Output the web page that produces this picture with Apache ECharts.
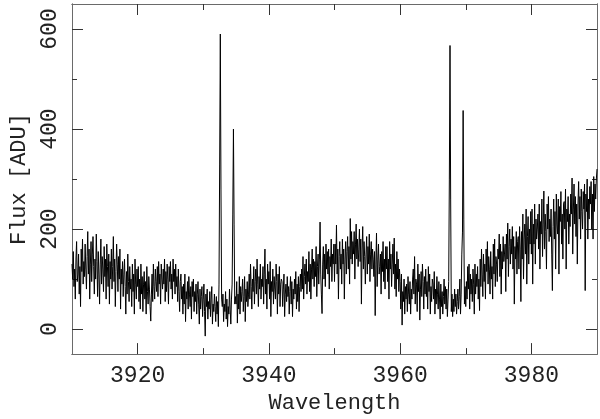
<!DOCTYPE html>
<html>
<head>
<meta charset="utf-8">
<script src="https://cdn.jsdelivr.net/npm/echarts@6/dist/echarts.min.js"></script>
<style>html,body{margin:0;padding:0;background:#fff;}#c{width:600px;height:419px;}</style>
</head>
<body>
<div id="c"></div>
<script>
const WL_START = 3910;
const WL_STEP = 0.1;
// Flux, 0.1 A sampling, one row per Angstrom
const fluxA = [
  130,100,155,85,120,60,140,175,95,110,
  150,70,125,45,160,115,180,90,135,105,
  170,120,80,145,195,110,160,60,130,175,
  95,150,185,125,70,140,100,190,135,65,
  155,110,50,130,180,90,145,120,75,165,
  105,140,60,170,125,85,150,50,135,100,
  160,80,125,185,95,140,45,115,170,130,
  75,145,100,160,40,120,90,135,65,110,
  140,85,30,115,70,150,95,55,125,80,
  100,45,130,75,110,30,140,90,60,120,
  85,125,55,100,40,130,70,105,35,90,
  115,60,95,30,125,75,50,105,80,45,
  16,70,110,55,130,85,60,120,95,75,
  125,65,135,90,110,50,130,100,80,120,
  90,140,55,115,75,130,100,50,125,95,
  135,80,110,60,140,95,120,70,130,85,
  105,55,120,75,35,95,110,60,85,30,
  90,50,110,15,75,60,95,40,105,70,
  45,85,20,95,65,100,35,75,55,90,
  30,70,95,50,10,80,40,65,85,25];
const fluxB = [
  60,90,35,-14,70,45,80,20,55,40,
  75,25,60,85,10,50,35,70,45,15,
  65,30,55,5,90,330,590,280,60,45,
  70,15,50,35,75,20,60,5,45,30,
  80,40,10,60,90,230,400,210,50,65,
  50,95,12,70,40,105,30,85,55,75,
  100,35,65,105,15,80,55,95,45,70,
  110,60,130,85,40,100,75,125,50,95,
  120,70,140,90,45,105,80,130,60,100,
  85,125,50,110,160,70,100,40,130,90,
  115,60,135,25,95,75,120,50,105,80,
  60,130,95,30,110,70,125,45,90,100,
  95,45,80,110,25,70,90,55,105,65,
  85,30,75,105,50,95,25,80,60,100,
  70,115,40,90,55,105,35,85,110,75,
  120,80,145,60,105,130,90,140,70,115,
  95,155,75,130,60,120,160,100,140,85,
  135,105,165,65,125,150,90,140,214,110,
  70,31,130,165,100,150,85,170,120,155,
  110,160,80,145,125,180,95,150,130,170];
const fluxC = [
  95,170,130,208,110,160,60,145,175,120,
  150,90,180,130,160,60,140,175,110,155,
  185,120,165,90,221,140,195,130,175,150,
  195,100,170,210,140,180,125,160,200,135,
  180,50,160,205,120,175,145,90,150,185,
  110,165,130,190,95,150,175,120,160,140,
  105,155,27,130,192,85,140,170,110,125,
  150,70,155,115,175,95,140,80,165,120,
  165,95,140,60,175,120,150,85,130,170,
  110,182,80,130,65,155,100,140,75,120,
  95,40,110,8,75,55,100,30,85,60,
  90,35,105,70,50,95,30,80,60,100,
  120,70,145,50,100,90,35,130,75,110,
  18,80,115,65,130,95,40,105,70,120,
  65,95,40,125,75,110,30,85,55,100,
  90,60,115,30,80,50,105,70,40,95,
  60,20,90,45,75,30,65,100,50,85,
  40,80,25,60,95,300,567,260,35,70,
  25,60,35,80,45,70,30,55,80,40,
  65,100,30,70,150,194,437,220,50,85];
const fluxD = [
  45,95,60,125,80,130,40,110,70,100,
  55,120,90,30,130,70,110,85,125,60,
  100,37,140,85,160,110,65,150,95,130,
  60,160,115,175,90,145,120,70,155,100,
  125,60,170,110,180,85,145,130,95,160,
  140,190,105,170,70,155,120,185,135,150,
  170,75,190,140,212,105,165,200,130,180,
  150,205,120,185,50,165,140,195,110,175,
  185,120,205,160,55,195,140,230,100,180,
  210,150,240,90,185,225,130,200,170,235,
  150,240,90,210,170,250,130,220,180,200,
  230,160,250,120,215,190,260,145,210,276,
  160,230,195,120,250,200,265,175,220,185,
  240,150,77,205,260,180,235,120,270,210,
  190,260,110,245,215,275,170,230,140,250,
  255,200,280,120,240,215,265,170,230,205,
  270,230,302,150,240,290,210,265,185,250,
  130,250,295,220,265,180,280,235,200,275,
  240,290,77,270,235,300,180,260,220,285,
  250,295,200,270,180,305,235,290,260,300,
  320];
const xMajorTicks = [3920, 3940, 3960, 3980];
const xMinorTicks = [3930, 3950, 3970];
const yMajorTicks = [0, 200, 400, 600];
const yMinorTicks = [100, 300, 500];

const flux = fluxA.concat(fluxB, fluxC, fluxD);
const data = flux.map((v, i) => [+(WL_START + i * WL_STEP).toFixed(1), v]);

const FONT = '"Liberation Mono", "DejaVu Sans Mono", monospace';
const LINE_COLOR = '#6a6a6a';
const TICK_COLOR = '#333';

function xAx(position, ticks, len, withLabel) {
  return {
    type: 'value', min: 3910, max: 3990, position: position,
    axisLine: {show: true, onZero: false, lineStyle: {color: LINE_COLOR, width: 1}},
    axisTick: {show: true, inside: true, length: len, customValues: ticks, lineStyle: {color: TICK_COLOR, width: 1}},
    axisLabel: withLabel ? {show: true, customValues: ticks, formatter: v => String(v), margin: 10, fontFamily: FONT, fontSize: 23, color: '#222'} : {show: false},
    splitLine: {show: false},
    name: withLabel ? 'Wavelength' : '',
    nameLocation: 'middle', nameGap: 30,
    nameTextStyle: {fontFamily: FONT, fontSize: 22, color: '#222'}
  };
}
function yAx(position, ticks, len, withLabel) {
  return {
    type: 'value', min: -50, max: 650, position: position,
    axisLine: {show: true, onZero: false, lineStyle: {color: LINE_COLOR, width: 1}},
    axisTick: {show: true, inside: true, length: len, customValues: ticks, lineStyle: {color: TICK_COLOR, width: 1}},
    axisLabel: withLabel ? {show: true, customValues: ticks, formatter: v => String(v), rotate: 90, margin: 11, fontFamily: FONT, fontSize: 23, color: '#222'} : {show: false},
    splitLine: {show: false},
    name: withLabel ? 'Flux [ADU]' : '',
    nameLocation: 'middle', nameGap: 42,
    nameTextStyle: {fontFamily: FONT, fontSize: 22, color: '#222'}
  };
}

const chart = echarts.init(document.getElementById('c'), null, {renderer: 'canvas'});
chart.setOption({
  animation: false,
  backgroundColor: '#fff',
  grid: {left: 68, right: 3, top: 4, bottom: 58, containLabel: false},
  xAxis: [
    xAx('bottom', xMajorTicks, 11, true),
    xAx('bottom', xMinorTicks, 6, false),
    xAx('top', xMajorTicks, 11, false),
    xAx('top', xMinorTicks, 6, false)
  ],
  yAxis: [
    yAx('left', yMajorTicks, 11, true),
    yAx('left', yMinorTicks, 5, false),
    yAx('right', yMajorTicks, 11, false),
    yAx('right', yMinorTicks, 5, false)
  ],
  series: [{
    type: 'line', xAxisIndex: 0, yAxisIndex: 0,
    data: data, showSymbol: false, symbol: 'none',
    lineStyle: {color: '#000', width: 1}, clip: true
  }]
});
</script>
</body>
</html>
